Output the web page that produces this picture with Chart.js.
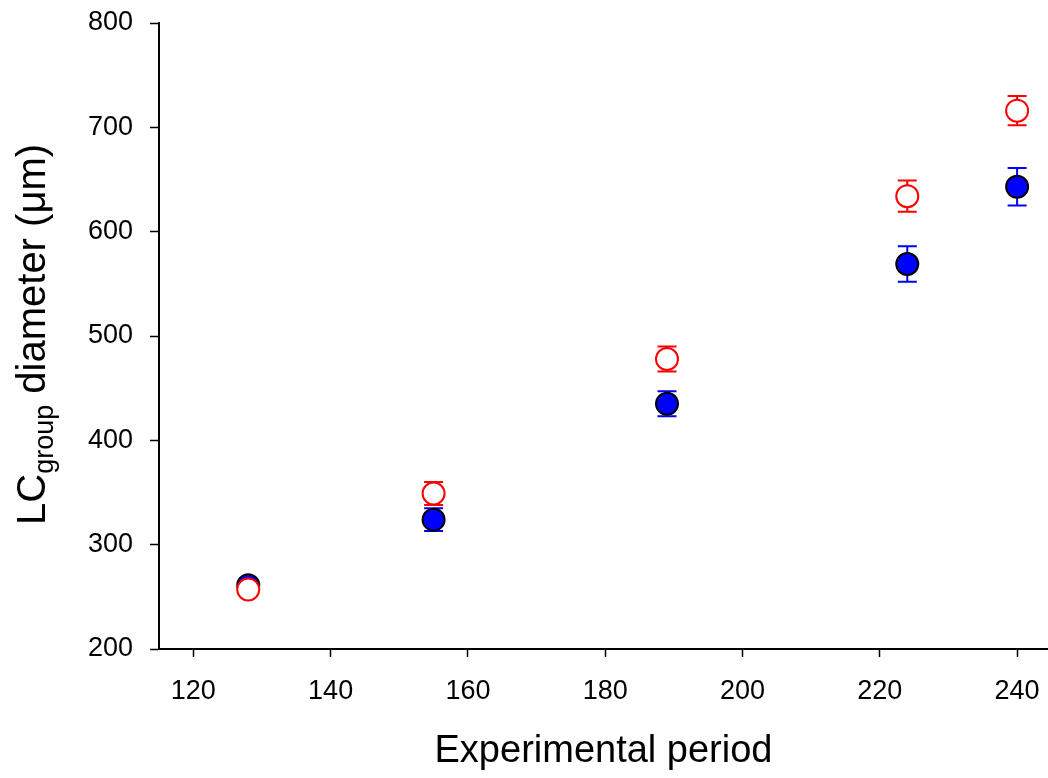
<!DOCTYPE html>
<html lang="en">
<head>
  <meta charset="UTF-8">
  <title>LC group diameter</title>
  <script src="https://cdn.jsdelivr.net/npm/chart.js"></script>
  <style>
    body { margin: 0; background: #fff; overflow: hidden; }
    #wrap { position: relative; width: 1048px; height: 778px; }
    #chart { display: block; }
    #ylabel {
      position: absolute; left: 11px; top: 525px;
      transform-origin: 0 0; transform: rotate(-90deg);
      white-space: nowrap; font: 40px "Liberation Sans", Arial, sans-serif;
      line-height: 1; color: #000;
    }
    #ylabel span { font-size: 27px; position: relative; top: 8px; }
  </style>
</head>
<body>
<div id="wrap">
  <canvas id="chart" width="1048" height="778"></canvas>
  <div id="ylabel">LC<span>group</span> diameter (μm)</div>
</div>
<script>
// experimental period (days)
const days = [128, 155, 189, 224, 240];
// filled blue series
const blueMean = [261, 324, 435, 569, 643];
const blueErr = [3, 11, 12, 17, 18];
// open red series
const redMean = [257, 349, 478, 634, 716];
const redErr = [3, 11, 12, 15, 14];

const xTicks = [120, 140, 160, 180, 200, 220, 240];
const yTicks = [200, 300, 400, 500, 600, 700, 800];

const font = "'Liberation Sans', Arial, sans-serif";

// error bars, drawn under the markers
const errorBars = {
  id: "errorBars",
  beforeDatasetsDraw(chart) {
    const { ctx, scales: { x, y } } = chart;
    const sets = [
      { mean: blueMean, err: blueErr, color: "#0000ff" },
      { mean: redMean, err: redErr, color: "#ff0000" }
    ];
    ctx.save();
    ctx.lineWidth = 2;
    sets.forEach((s) => {
      ctx.strokeStyle = s.color;
      days.forEach((d, i) => {
        const px = x.getPixelForValue(d);
        const top = y.getPixelForValue(s.mean[i] + s.err[i]);
        const bot = y.getPixelForValue(s.mean[i] - s.err[i]);
        ctx.beginPath();
        ctx.moveTo(px, top); ctx.lineTo(px, bot);
        ctx.moveTo(px - 9.5, top); ctx.lineTo(px + 9.5, top);
        ctx.moveTo(px - 9.5, bot); ctx.lineTo(px + 9.5, bot);
        ctx.stroke();
      });
    });
    ctx.restore();
  }
};

// no automatic room for overflowing tick labels
const noPad = (s) => {
  s.paddingLeft = 0; s.paddingRight = 0; s.paddingTop = 0; s.paddingBottom = 0;
  if (s._margins) { s._margins.left = 0; s._margins.right = 0; s._margins.top = 0; s._margins.bottom = 0; }
};

new Chart(document.getElementById("chart"), {
  type: "scatter",
  data: {
    datasets: [
      {
        label: "open",
        data: days.map((d, i) => ({ x: d, y: redMean[i] })),
        pointRadius: 11,
        pointBackgroundColor: "#ffffff",
        pointBorderColor: "#ff0000",
        pointBorderWidth: 2,
        order: 0
      },
      {
        label: "filled",
        data: days.map((d, i) => ({ x: d, y: blueMean[i] })),
        pointRadius: 11,
        pointBackgroundColor: "#0000ff",
        pointBorderColor: "#000000",
        pointBorderWidth: 2,
        order: 1
      }
    ]
  },
  options: {
    responsive: false,
    animation: false,
    layout: { autoPadding: false, padding: { top: 23, right: 0, bottom: 0, left: 0 } },
    plugins: { legend: { display: false }, tooltip: { enabled: false } },
    scales: {
      x: {
        type: "linear",
        min: 115,
        max: 244.5,
        afterBuildTicks: (s) => { s.ticks = xTicks.map((v) => ({ value: v })); },
        afterFit: (s) => { s.height = 129; noPad(s); },
        border: { display: true, color: "#000", width: 2 },
        grid: { drawOnChartArea: false, drawTicks: true, tickLength: 8, tickColor: "#000", tickWidth: 1.5 },
        ticks: { color: "#000", padding: 18, font: { family: font, size: 27 }, maxRotation: 0 },
        title: {
          display: true,
          text: "Experimental period",
          color: "#000",
          font: { family: font, size: 38 },
          padding: { top: 0, bottom: 4 }
        }
      },
      y: {
        type: "linear",
        min: 200,
        max: 800,
        afterBuildTicks: (s) => { s.ticks = yTicks.map((v) => ({ value: v })); },
        afterFit: (s) => { s.width = 159; noPad(s); },
        border: { display: true, color: "#000", width: 2 },
        grid: { drawOnChartArea: false, drawTicks: true, tickLength: 9, tickColor: "#000", tickWidth: 1.5 },
        ticks: { color: "#000", padding: 17, font: { family: font, size: 27 } }
      }
    }
  },
  plugins: [errorBars]
});
</script>
</body>
</html>
